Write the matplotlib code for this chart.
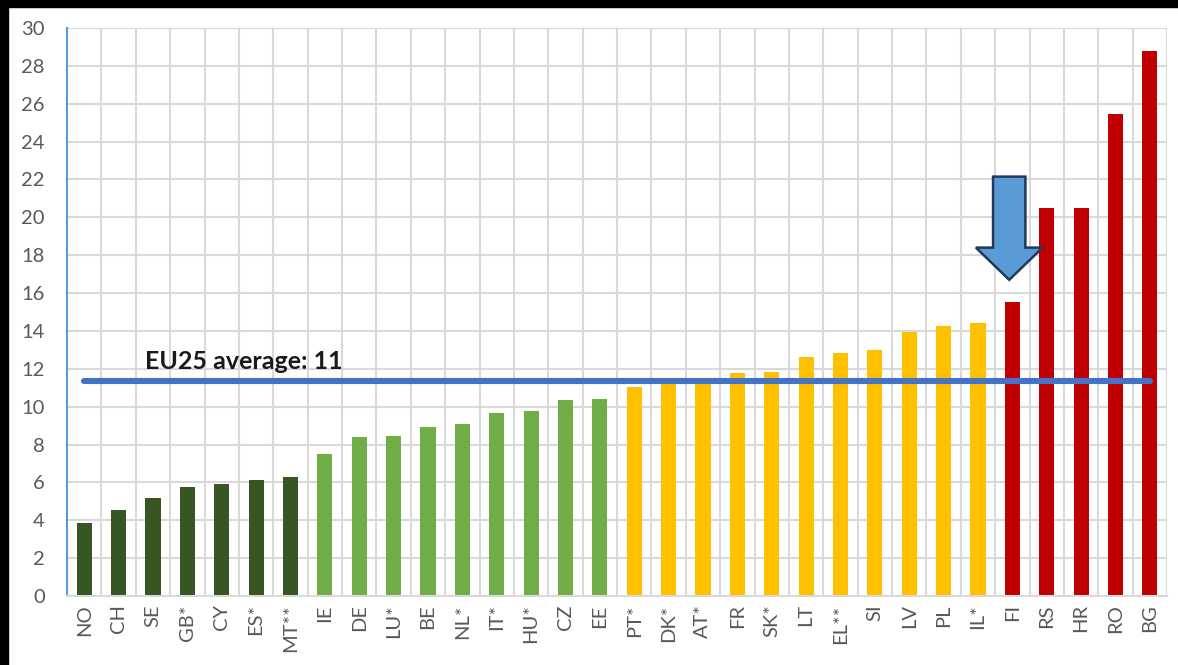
import numpy as np
import matplotlib.pyplot as plt
from matplotlib.patches import Polygon

countries = ['NO', 'CH', 'SE', 'GB*', 'CY', 'ES*', 'MT**', 'IE', 'DE', 'LU*',
             'BE', 'NL*', 'IT*', 'HU*', 'CZ', 'EE', 'PT*', 'DK*', 'AT*', 'FR',
             'SK*', 'LT', 'EL**', 'SI', 'LV', 'PL', 'IL*', 'FI', 'RS', 'HR',
             'RO', 'BG']
values = [3.85, 4.52, 5.17, 5.76, 5.9, 6.14, 6.27, 7.48, 8.4, 8.47,
          8.91, 9.1, 9.68, 9.76, 10.34, 10.39, 11.04, 11.25, 11.3, 11.76,
          11.82, 12.64, 12.85, 12.98, 13.96, 14.28, 14.4, 15.55, 20.51, 20.51,
          25.46, 28.8]
groups = ['low'] * 7 + ['mid'] * 9 + ['high'] * 11 + ['top'] * 5
eu_average = 11.36
eu_label = 'EU25 average: 11'

group_colors = {'low': '#375623', 'mid': '#70AD47', 'high': '#FFC000', 'top': '#C00000'}

plt.rcParams['font.family'] = ['Lato', 'DejaVu Sans']

fig = plt.figure(figsize=(11.78, 6.65), dpi=100, facecolor='white')
# black strips at top and left, as in the screenshot
fig.patches.append(plt.Rectangle((0, 1 - 7 / 665), 1, 7 / 665, transform=fig.transFigure,
                                 color='black', zorder=0))
fig.patches.append(plt.Rectangle((0, 0), 8 / 1178, 1, transform=fig.transFigure,
                                 color='black', zorder=0))

ax = fig.add_axes([67 / 1178, 1 - 596 / 665, 1100 / 1178, 568 / 665])

x = np.arange(len(countries))
ax.bar(x, values, width=0.44, color=[group_colors[g] for g in groups], zorder=2)

ax.plot([x[0], x[-1]], [eu_average, eu_average], color='#4472C4', linewidth=4.4,
        solid_capstyle='round', zorder=4)
ax.text(1.77, 12.0, eu_label, fontsize=18, fontweight='bold', color='#1a1a1a',
        va='baseline', ha='left', zorder=3)

# arrow pointing at FI
fi = countries.index('FI')
fi_val = values[fi]
tip = fi_val + 1.15
base = tip + 1.7
top = base + 3.75
sw, hw = 0.47, 0.97
xc = fi - 0.09
arrow = Polygon([(xc - sw, top), (xc + sw, top), (xc + sw, base), (xc + hw, base),
                 (xc, tip), (xc - hw, base), (xc - sw, base)], closed=True,
                facecolor='#5B9BD5', edgecolor='#1F3A5A', linewidth=1.8, zorder=5)
ax.add_patch(arrow)

ax.set_xlim(-0.5, len(countries) - 0.5)
ax.set_ylim(0, 30)
ax.set_yticks(np.arange(0, 31, 2))
ax.set_xticks(x)
ax.set_xticklabels(countries, rotation=90)
ax.set_xticks(np.arange(-0.5, len(countries), 1), minor=True)
ax.tick_params(axis='both', which='both', length=0, labelsize=14.5, colors='#595959')
ax.tick_params(axis='x', pad=6)
ax.tick_params(axis='y', pad=16)
for lbl in ax.get_yticklabels():
    lbl.set_horizontalalignment('right')

ax.grid(True, axis='y', which='major', color='#D9D9D9', linewidth=1.5, zorder=0)
ax.grid(True, axis='x', which='minor', color='#D9D9D9', linewidth=1.5, zorder=0)
ax.set_axisbelow(True)

for side in ['top', 'right']:
    ax.spines[side].set_visible(False)
ax.spines['bottom'].set_color('#D9D9D9')
ax.spines['bottom'].set_linewidth(1.5)
ax.spines['left'].set_color('#5B9BD5')
ax.spines['left'].set_linewidth(1.5)

plt.savefig('out.png', dpi=100, facecolor='white')
plt.close()
